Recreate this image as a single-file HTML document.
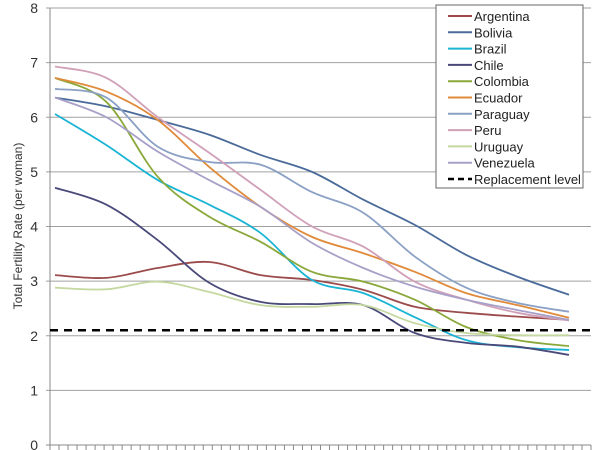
<!DOCTYPE html>
<html><head><meta charset="utf-8"><style>
body{margin:0;background:#fff;}
svg{display:block;font-family:"Liberation Sans",sans-serif;}
</style></head><body>
<svg id="chart" width="602" height="450"></svg>
<script>
const years=[1950,1960,1970,1980,1990,2000,2010,2020,2030,2040,2050];
const yTicks=[0,1,2,3,4,5,6,7,8];
const replacementLevel=2.1;
const names=["Argentina","Bolivia","Brazil","Chile","Colombia","Ecuador","Paraguay","Peru","Uruguay","Venezuela"];
const colors=["#9c4b4b","#4a6b9a","#1ab4d4","#4a4a7a","#8aa83a","#e08a3a","#8aa0c4","#d0a0b8","#c4d8a0","#a8a0c8"];
const argentina=[3.11,3.06,3.24,3.35,3.11,3.02,2.84,2.53,2.42,2.35,2.29];
const bolivia=[6.36,6.2,5.95,5.68,5.31,5.0,4.49,4.03,3.48,3.08,2.75];
const brazil=[6.06,5.49,4.85,4.4,3.88,3.02,2.78,2.34,1.92,1.79,1.74];
const chile=[4.71,4.4,3.75,2.97,2.62,2.58,2.56,2.05,1.87,1.8,1.65];
const colombia=[6.72,6.28,4.91,4.18,3.72,3.17,2.99,2.66,2.16,1.92,1.81];
const ecuador=[6.72,6.47,5.95,5.09,4.36,3.81,3.51,3.17,2.78,2.56,2.33];
const paraguay=[6.52,6.36,5.46,5.18,5.13,4.63,4.25,3.45,2.88,2.6,2.44];
const peru=[6.93,6.72,6.0,5.35,4.67,4.0,3.63,2.99,2.66,2.42,2.28];
const uruguay=[2.88,2.85,2.99,2.8,2.56,2.53,2.56,2.23,2.05,2.01,2.01];
const venezuela=[6.36,6.0,5.37,4.85,4.36,3.7,3.24,2.9,2.66,2.47,2.29];
const series=[argentina,bolivia,brazil,chile,colombia,ecuador,paraguay,peru,uruguay,venezuela];

const NS="http://www.w3.org/2000/svg";
const svg=document.getElementById('chart');
const L=50,R=591,T=8,B=445;
const x=yr=>55+(yr-1950)*(569-55)/100;
const y=v=>B-(v/8)*(B-T);
function mk(tag,attrs,parent){const e=document.createElementNS(NS,tag);for(const k in attrs)e.setAttribute(k,attrs[k]);(parent||svg).appendChild(e);return e;}

// gridlines & y labels
yTicks.forEach(t=>{
  if(t>0){const g=mk('line',{x1:L-4,x2:R,y1:y(t),y2:y(t),stroke:'#a0a0a0','stroke-width':1});
  
  }
  const tx=mk('text',{x:38,y:y(t)+5,'text-anchor':'end','font-size':14,fill:'#333'});
  tx.textContent=t;
  
  
});
// axes
const ya=mk('line',{x1:L,x2:L,y1:T,y2:B,stroke:'#888'});


const xa=mk('line',{x1:L-4,x2:R,y1:B,y2:B,stroke:'#888'});


for(let i=0;i<=60;i++){const px=L+i*(R-L)/60;const tk=mk('line',{x1:px,x2:px,y1:B,y2:B+5,stroke:'#888'});

}
const yt=mk('text',{transform:'translate(22,226) rotate(-90)','text-anchor':'middle','font-size':12,fill:'#333'});
yt.textContent='Total Fertility Rate (per woman)';



function smooth(pts){let d='M'+pts[0][0]+','+pts[0][1];
  for(let i=0;i<pts.length-1;i++){const p0=pts[i-1]||pts[i],p1=pts[i],p2=pts[i+1],p3=pts[i+2]||p2;
    const c1=[p1[0]+(p2[0]-p0[0])/6,p1[1]+(p2[1]-p0[1])/6],c2=[p2[0]-(p3[0]-p1[0])/6,p2[1]-(p3[1]-p1[1])/6];
    d+=' C'+c1+' '+c2+' '+p2;}return d;}
series.forEach((s,i)=>{
  const p=mk('path',{d:smooth(s.map((v,j)=>[x(years[j]),y(v)])),fill:'none',stroke:colors[i],'stroke-width':1.8});
  
  
});
const rl=mk('line',{x1:L,x2:R,y1:y(replacementLevel),y2:y(replacementLevel),stroke:'#000','stroke-width':2.5,'stroke-dasharray':'8,6'});



// legend
const lg=mk('g',{});


mk('rect',{x:436,y:5,width:147,height:183,fill:'#fff',stroke:'#666'},lg);
const labels=names.concat(['Replacement level']);
labels.forEach((n,i)=>{
  const ly=16+i*16.3;
  const ln=mk('line',{x1:448,x2:472,y1:ly,y2:ly,stroke:i<10?colors[i]:'#000','stroke-width':i<10?2:2.5,'stroke-dasharray':i<10?'none':'6,4'},lg);
  
  
  const t=mk('text',{x:474,y:ly+5,'font-size':13,fill:'#222'},lg);
  t.textContent=n;
  
  
});
</script>
</body></html>
